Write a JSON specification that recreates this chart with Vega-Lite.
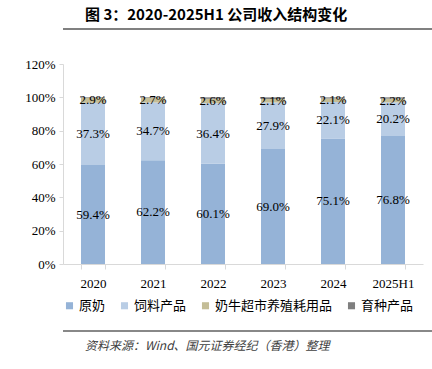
{
  "$schema": "https://vega.github.io/schema/vega-lite/v6.json",
  "padding": {"top": 8, "left": 0, "right": 0, "bottom": 0},
  "background": "white",
  "config": {"view": {"stroke": null}, "axis": {"labelOverlap": false}},
  "resolve": {"legend": {"color": "independent"}, "scale": {"color": "independent"}},
  "datasets": {
    "rev": [
      {"year": "2020", "cat": "原奶", "ord": 1, "v": 0.594},
      {"year": "2020", "cat": "饲料产品", "ord": 2, "v": 0.373},
      {"year": "2020", "cat": "奶牛超市养殖耗用品", "ord": 3, "v": 0.029},
      {"year": "2020", "cat": "育种产品", "ord": 4, "v": 0.004},
      {"year": "2021", "cat": "原奶", "ord": 1, "v": 0.622},
      {"year": "2021", "cat": "饲料产品", "ord": 2, "v": 0.347},
      {"year": "2021", "cat": "奶牛超市养殖耗用品", "ord": 3, "v": 0.027},
      {"year": "2021", "cat": "育种产品", "ord": 4, "v": 0.004},
      {"year": "2022", "cat": "原奶", "ord": 1, "v": 0.601},
      {"year": "2022", "cat": "饲料产品", "ord": 2, "v": 0.364},
      {"year": "2022", "cat": "奶牛超市养殖耗用品", "ord": 3, "v": 0.026},
      {"year": "2022", "cat": "育种产品", "ord": 4, "v": 0.009},
      {"year": "2023", "cat": "原奶", "ord": 1, "v": 0.690},
      {"year": "2023", "cat": "饲料产品", "ord": 2, "v": 0.279},
      {"year": "2023", "cat": "奶牛超市养殖耗用品", "ord": 3, "v": 0.021},
      {"year": "2023", "cat": "育种产品", "ord": 4, "v": 0.010},
      {"year": "2024", "cat": "原奶", "ord": 1, "v": 0.751},
      {"year": "2024", "cat": "饲料产品", "ord": 2, "v": 0.221},
      {"year": "2024", "cat": "奶牛超市养殖耗用品", "ord": 3, "v": 0.021},
      {"year": "2024", "cat": "育种产品", "ord": 4, "v": 0.007},
      {"year": "2025H1", "cat": "原奶", "ord": 1, "v": 0.768},
      {"year": "2025H1", "cat": "饲料产品", "ord": 2, "v": 0.202},
      {"year": "2025H1", "cat": "奶牛超市养殖耗用品", "ord": 3, "v": 0.022},
      {"year": "2025H1", "cat": "育种产品", "ord": 4, "v": 0.008}
    ],
    "line": [{"a": 0, "b": 1}]
  },
  "spacing": 23,
  "vconcat": [
    {
      "width": 432, "height": 12,
      "title": {"text": "图 3：2020-2025H1 公司收入结构变化", "anchor": "start", "frame": "group", "dx": 22, "font": "Noto Sans CJK SC", "fontWeight": "bold", "fontSize": 15, "color": "#000000", "offset": 0},
      "data": {"values": [{"a": 0, "b": 1}]},
      "mark": {"type": "rule", "color": "#808080", "strokeWidth": 2},
      "encoding": {
        "x": {"field": "a", "type": "quantitative", "scale": {"domain": [0, 1]}, "axis": null},
        "x2": {"field": "b"}
      }
    },
    {
      "spacing": 12,
      "resolve": {"legend": {"color": "independent"}, "scale": {"color": "independent"}},
      "vconcat": [
        {
          "width": 360, "height": 200,
          "data": {"name": "rev"},
          "transform": [
            {"stack": "v", "groupby": ["year"], "sort": [{"field": "ord", "order": "ascending"}], "as": ["y0", "y1"]},
            {"calculate": "(datum.y0 + datum.y1) / 2", "as": "ym"}
          ],
          "encoding": {
            "x": {"field": "year", "type": "nominal", "sort": null,
              "scale": {"paddingInner": 0.6, "paddingOuter": 0.3},
              "axis": {"title": null, "labelAngle": 0, "labelFont": "Liberation Serif", "labelFontSize": 13, "labelColor": "#000000", "labelPadding": 8, "domainColor": "#D9D9D9", "tickColor": "#D9D9D9", "tickSize": 5, "tickBand": "extent"}}
          },
          "layer": [
            {
              "mark": {"type": "bar"},
              "encoding": {
                "y": {"field": "y0", "type": "quantitative", "scale": {"domain": [0, 1.2]},
                  "axis": {"title": null, "format": ".0%", "values": [0, 0.2, 0.4, 0.6, 0.8, 1.0, 1.2], "labelOverlap": false, "grid": false, "labelFont": "Liberation Serif", "labelFontSize": 13, "labelColor": "#000000", "labelPadding": 4, "domainColor": "#D9D9D9", "tickColor": "#D9D9D9", "tickSize": 4, "minExtent": 63, "maxExtent": 63}},
                "y2": {"field": "y1"},
                "color": {"field": "cat", "type": "nominal",
                  "scale": {"domain": ["原奶", "饲料产品", "奶牛超市养殖耗用品", "育种产品"], "range": ["#95B3D7", "#B9CDE5", "#C4BD97", "#7F7F7F"]},
                  "legend": {"title": null, "orient": "bottom", "direction": "horizontal", "symbolType": "square", "symbolSize": 50, "symbolStrokeWidth": 0, "labelFont": "Noto Sans CJK SC", "labelFontSize": 13, "labelColor": "#000000", "labelOffset": 3, "columnPadding": 12, "offset": 9}}
              }
            },
            {
              "transform": [{"filter": "datum.ord < 4"}],
              "mark": {"type": "text", "font": "Liberation Serif", "fontSize": 13, "color": "#000000"},
              "encoding": {
                "y": {"field": "ym", "type": "quantitative", "axis": {"title": null, "format": ".0%", "values": [0, 0.2, 0.4, 0.6, 0.8, 1.0, 1.2], "labelOverlap": false}},
                "text": {"field": "v", "type": "quantitative", "format": ".1%"}
              }
            }
          ]
        },
        {
          "width": 432, "height": 12,
          "data": {"values": [{"a": 0, "b": 1}]},
          "title": {"text": "资料来源：Wind、国元证券经纪（香港）整理", "orient": "bottom", "anchor": "start", "frame": "group", "dx": 22, "font": "Noto Sans CJK SC", "fontStyle": "italic", "fontWeight": "normal", "fontSize": 12, "color": "#404040", "offset": 4},
          "mark": {"type": "rule", "color": "#606060", "strokeWidth": 1.5},
          "encoding": {
            "x": {"field": "a", "type": "quantitative", "scale": {"domain": [0, 1]}, "axis": null},
            "x2": {"field": "b"}
          }
        }
      ]
    }
  ]
}
